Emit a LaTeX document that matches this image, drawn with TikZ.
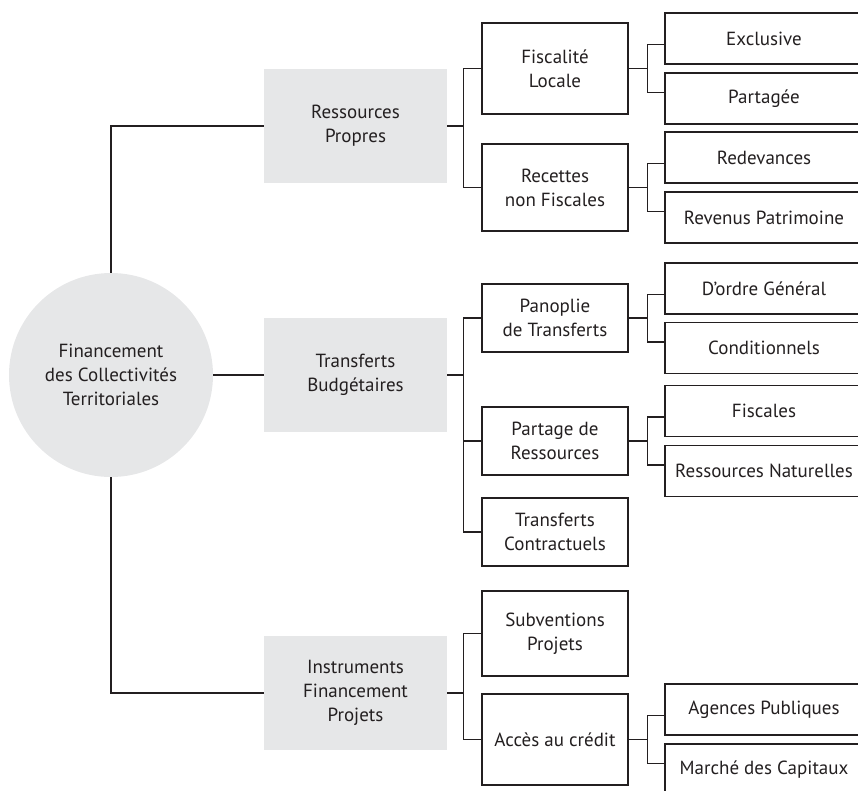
\documentclass[tikz,border=0pt]{standalone}
\usepackage{fontspec}
\setmainfont{PT Sans}
\definecolor{boxgray}{HTML}{E6E7E8}
\definecolor{inkgray}{HTML}{231F20}
\newcommand\diagfont{\fontsize{19}{24}\selectfont}
\tikzset{
  hub/.style={circle,fill=boxgray,minimum size=204pt,inner sep=0pt,align=center,font=\diagfont,text=inkgray},
  group/.style={rectangle,fill=boxgray,minimum width=183pt,minimum height=114pt,align=center,font=\diagfont,text=inkgray},
  sub/.style={rectangle,draw=inkgray,line width=1.3pt,minimum width=146pt,align=center,font=\diagfont,text=inkgray},
  leaf/.style={rectangle,draw=inkgray,line width=1.3pt,minimum width=198pt,minimum height=51pt,font=\diagfont,text=inkgray},
  link/.style={draw=inkgray,line width=1.2pt}
}
\begin{document}
\begin{tikzpicture}[x=1pt,y=-1pt]
  \useasboundingbox (0,0) rectangle (858,790);
  \clip (0,0) rectangle (858,790);

  % root and the three groups
  \node[hub] (fin) at (111,375) {Financement\\des Collectivités\\Territoriales};
  \node[group] (rp) at (355.5,126) {Ressources\\Propres};
  \node[group] (tb) at (355.5,375) {Transferts\\Budgétaires};
  \node[group] (ifp) at (355.5,693) {Instruments\\Financement\\Projets};

  % second level
  \node[sub,minimum height=91pt] (fl) at (555,68.5) {Fiscalité\\Locale};
  \node[sub,minimum height=87pt] (rnf) at (555,187.5) {Recettes\\non Fiscales};
  \node[sub,minimum height=68pt] (pt) at (555,318) {Panoplie\\de Transferts};
  \node[sub,minimum height=68pt] (pr) at (555,441) {Partage de\\Ressources};
  \node[sub,minimum height=68pt] (tc) at (555,532) {Transferts\\Contractuels};
  \node[sub,minimum height=85pt] (sp) at (555,633.5) {Subventions\\Projets};
  \node[sub,minimum height=91pt] (ac) at (555,739.5) {Accès au crédit};

  % third level
  \node[leaf] (excl) at (764,38.5) {Exclusive};
  \node[leaf] (part) at (764,98.5) {Partagée};
  \node[leaf] (red) at (764,157.5) {Redevances};
  \node[leaf] (rev) at (764,217.5) {Revenus Patrimoine};
  \node[leaf] (dog) at (764,288.5) {D’ordre Général};
  \node[leaf] (cond) at (764,348) {Conditionnels};
  \node[leaf] (fisc) at (764,411) {Fiscales};
  \node[leaf] (rn) at (764,471) {Ressources Naturelles};
  \node[leaf] (ap) at (764,709.5) {Agences Publiques};
  \node[leaf] (mc) at (764,769.5) {Marché des Capitaux};

  \draw[link] (fin.north) |- (rp.west);
  \draw[link] (fin.east) -- (tb.west);
  \draw[link] (fin.south) |- (ifp.west);

  \foreach \g/\s in {rp/fl,rp/rnf,tb/pt,tb/pr,tb/tc,ifp/sp,ifp/ac}
    \draw[link] (\g.east) -- +(16.5,0) |- (\s.west);

  \foreach \s/\a/\b in {fl/excl/part,rnf/red/rev,pt/dog/cond,pr/fisc/rn,ac/ap/mc} {
    \draw[link] (\s.east) -- +(18.5,0) |- ([yshift=-6pt]\a.west);
    \draw[link] (\s.east) -- +(18.5,0) |- ([yshift=6pt]\b.west);
  }
\end{tikzpicture}
\end{document}
